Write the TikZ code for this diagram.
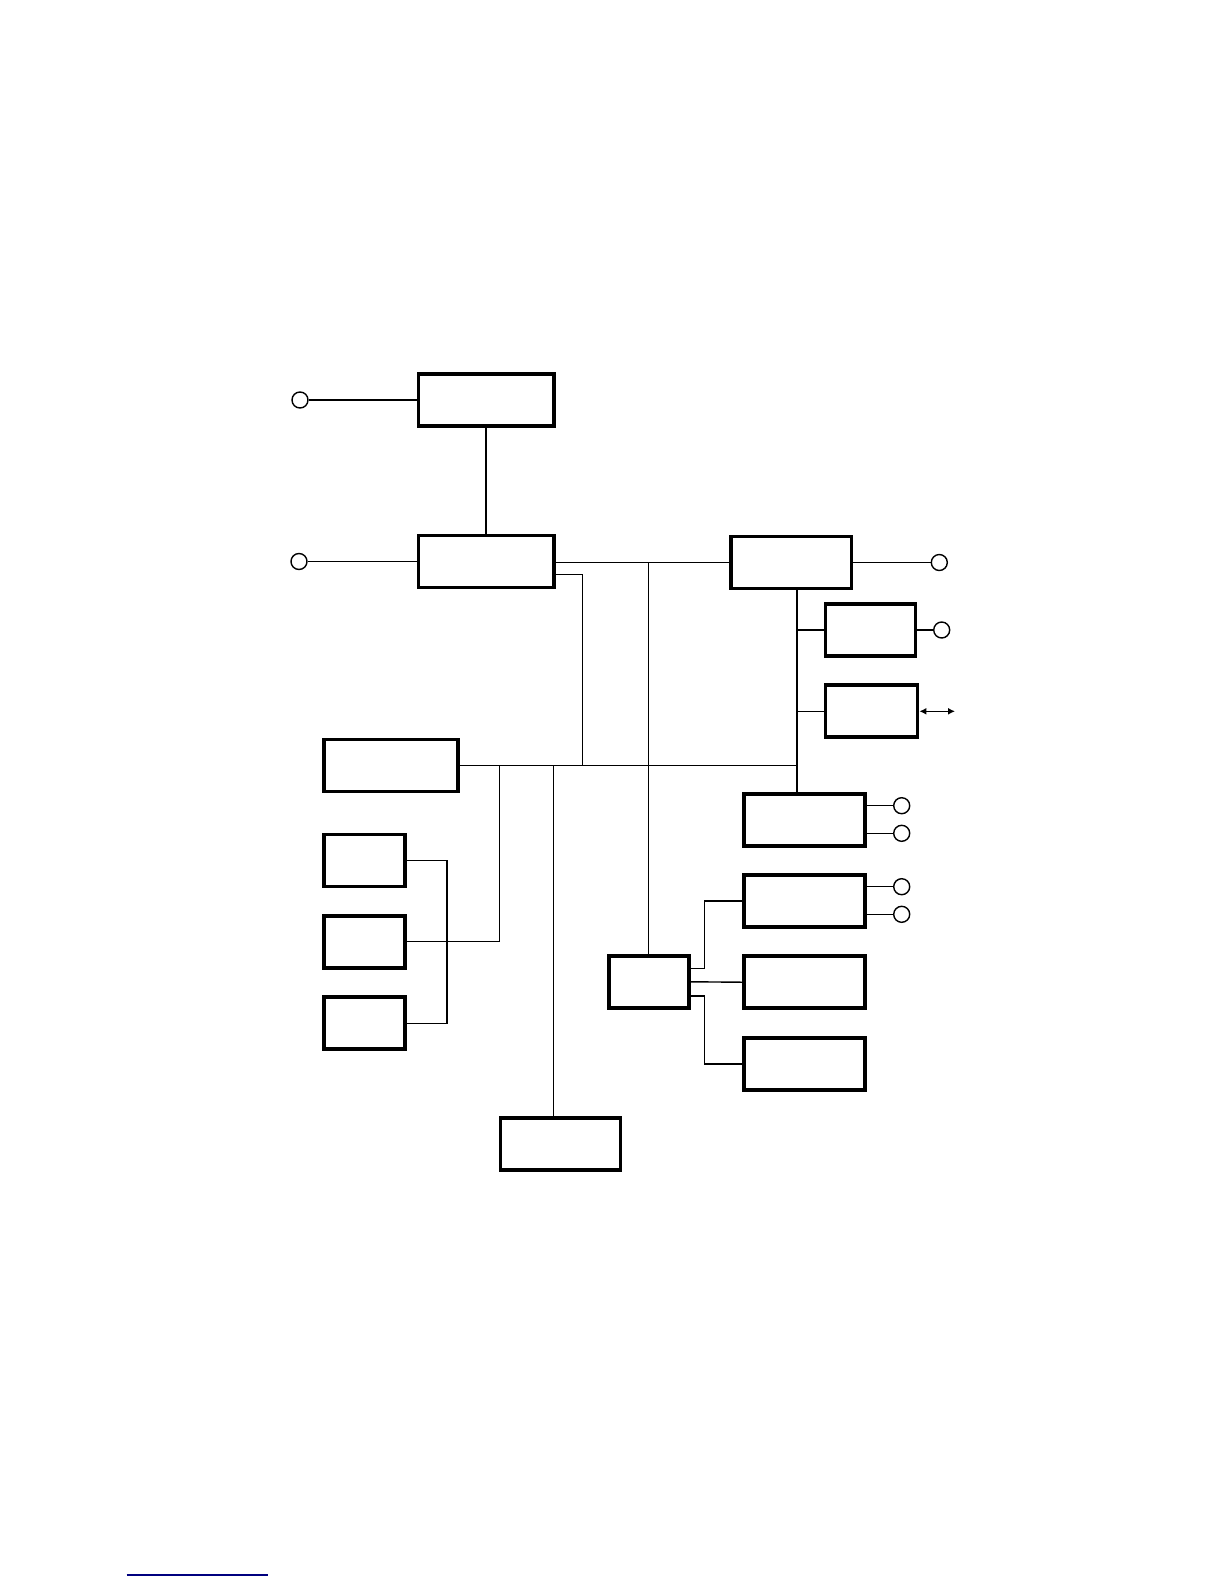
\documentclass[tikz,border=0pt]{standalone}
\usetikzlibrary{arrows.meta, positioning}
\definecolor{cnavy}{HTML}{00007F}
\tikzset{
  every picture/.style={line width=0.7pt},
  blk/.style={draw, line width=1.9pt, minimum width=#1, minimum height=26pt, inner sep=0pt},
  blk/.default=60.4pt,
  term/.style={draw, circle, minimum size=8pt, inner sep=0pt, line width=0.7pt},
  dbl/.style={{Latex[length=3.5pt, width=3.5pt]}-{Latex[length=3.5pt, width=3.5pt]}},
}
\begin{document}
\begin{tikzpicture}[x=0.5pt, y=-0.5pt]
  \useasboundingbox (0,0) rectangle (1224,1584);
  % blocks
  \node[blk=67.6pt] (a) at (486,400) {};
  \node[blk=67.6pt] (b) at (486,561.5) {};
  \node[blk] (c) at (791,562.5) {};
  \node[blk=45pt] (d) at (870.4,630) {};
  \node[blk=46pt] (e) at (871.5,711.3) {};
  \node[blk=67pt] (f) at (390.8,765.5) {};
  \foreach \y/\n in {860.5/g1, 941.7/g2, 1023.2/g3}
    \node[blk=40.5pt] (\n) at (364.3,\y) {};
  \node[blk=40pt] (h) at (648.7,981.8) {};
  \foreach \y/\n in {820/i1, 900.9/i2, 982.2/i3, 1063.9/i4}
    \node[blk] (\n) at (804.2,\y) {};
  \node[blk=60pt] (j) at (560.4,1144.2) {};
  % terminals
  \node[term] (ta) at (300,400) {};
  \node[term] (tb) at (299,561.5) {};
  \node[term] (tc) at (939.3,562.5) {};
  \node[term] (td) at (941.7,630) {};
  \node[term] (ti1) at (901.7,805.7) {};
  \node[term] (ti2) at (901.7,833.3) {};
  \node[term] (ti3) at (901.7,886.7) {};
  \node[term] (ti4) at (901.7,914.3) {};
  \coordinate (eo) at (955,711.3);
  % bus points
  \coordinate (busr) at (797,765.5);
  \coordinate (bx) at (582.7,765.5);
  \coordinate (gx) at (499.3,765.5);
  \coordinate (jx) at (553.3,765.5);
  % wires
  \draw (ta) -- (a); \draw (tb) -- (b); \draw (a) -- (b);
  \draw (b.east |- c) -- (c.west); \draw (c) -- (tc); \draw (d) -- (td);
  \draw ([yshift=-6.6pt]b.east) -| (bx);
  \draw (f.east) -- (busr);
  \draw (c.south -| busr) -- (i1.north -| busr);
  \draw (d.west) -- (d.west -| busr); \draw (e.west) -- (e.west -| busr);
  \draw[dbl] (e.east) -- (eo);
  \draw (h.north) -- (h.north |- c);
  \draw (jx) -- (jx |- j.north);
  \draw (gx) |- (g2.east);
  \draw (g1.east) -- ++(40.2,0) |- (g3.east);
  \draw (i1.east |- ti1) -- (ti1); \draw (i1.east |- ti2) -- (ti2);
  \draw (i2.east |- ti3) -- (ti3); \draw (i2.east |- ti4) -- (ti4);
  \draw ([yshift=6.8pt]h.east) -- ++(13.6,0) |- (i2.west);
  \draw (h.east) -- (i3.west);
  \draw ([yshift=-7pt]h.east) -- ++(13.6,0) |- (i4.west);
  % footnote rule
  \draw[cnavy, line width=0.6pt] (126.7,1575) -- (268.3,1575);
\end{tikzpicture}
\end{document}
